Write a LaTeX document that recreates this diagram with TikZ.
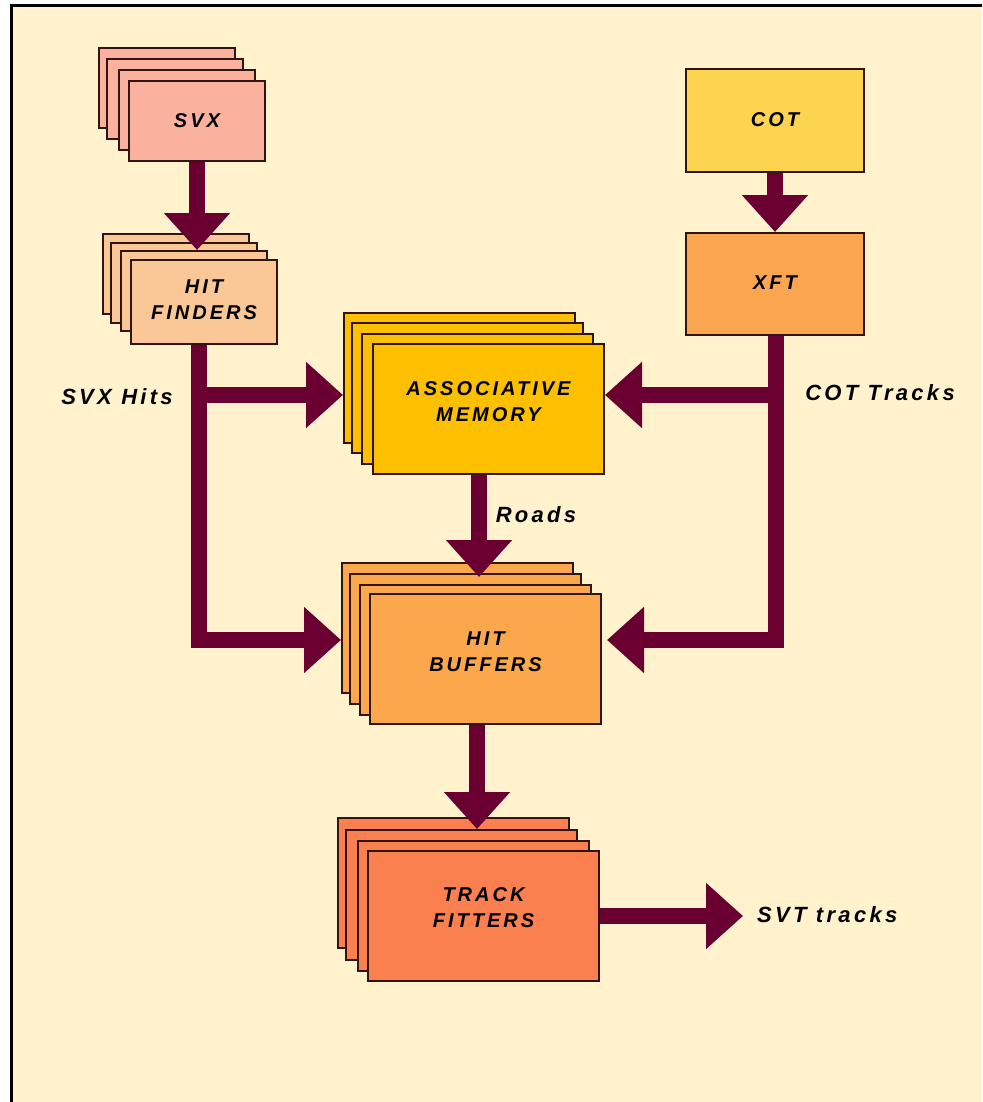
\documentclass[tikz,border=0pt]{standalone}
\usepackage{fontspec}
\setmainfont{Liberation Sans}
\newfontfamily\boxfont[LetterSpace=15]{Liberation Sans}
\newfontfamily\labfont[LetterSpace=15]{Liberation Sans}
\usetikzlibrary{arrows.meta}
\definecolor{bg}{RGB}{255,242,204}
\definecolor{svxc}{RGB}{250,178,158}
\definecolor{hfc}{RGB}{250,200,150}
\definecolor{cotc}{RGB}{253,212,80}
\definecolor{xftc}{RGB}{250,165,80}
\definecolor{amc}{RGB}{252,192,0}
\definecolor{hbc}{RGB}{251,168,76}
\definecolor{tfc}{RGB}{250,128,80}
\definecolor{arrowc}{RGB}{106,0,50}
\definecolor{edge}{RGB}{50,20,20}
\begin{document}
\begin{tikzpicture}[x=1pt,y=-1pt,
  box/.style={draw=edge, line width=2pt, inner sep=0pt, anchor=north west,
              minimum width=231pt, minimum height=130pt},
  txt/.style={font=\boxfont\bfseries\itshape\fontsize{20}{26}\selectfont,
              align=center, text=black, inner sep=0pt},
  lab/.style={font=\labfont\bfseries\itshape\fontsize{22}{26}\selectfont,
              text=black, inner sep=0pt},
  flow/.style={draw=arrowc, line width=16pt, line join=miter,
               -{Triangle[length=37pt,width=64pt]}}]
\useasboundingbox (0,0) rectangle (982,1102);
\fill[white] (0,0) rectangle (982,1102);
\fill[bg] (11,6) rectangle (982,1102);
\draw[line width=3pt] (11,1102) -- (11,6) -- (982,6);

% SVX stack
\foreach \i/\x/\y in {1/98/47,2/106/58,3/118/69}
  \node[box, fill=svxc, minimum width=136pt, minimum height=80pt] (svx\i) at (\x,\y) {};
\node[box, fill=svxc, minimum width=136pt, minimum height=80pt] (svx4) at (128,80) {};
\node[txt] (svxt) at (svx4.center) {SVX};

% HIT FINDERS stack
\foreach \i/\x/\y in {1/102/233,2/110/242,3/120/250}
  \node[box, fill=hfc, minimum width=146pt, minimum height=80pt] (hf\i) at (\x,\y) {};
\node[box, fill=hfc, minimum width=146pt, minimum height=84pt] (hf4) at (130,259) {};
\node[txt] (hft) at ([yshift=2pt]hf4.center) {HIT\\FINDERS};

% COT and XFT
\node[box, fill=cotc, minimum width=178pt, minimum height=103pt] (cot) at (685,68) {};
\node[txt] (cott) at ([yshift=1pt]cot.center) {COT};
\node[box, fill=xftc, minimum width=178pt, minimum height=102pt] (xft) at (685,232) {};
\node[txt] (xftt) at ([yshift=1pt]xft.center) {XFT};

% ASSOCIATIVE MEMORY stack
\foreach \i/\x/\y in {1/343/312,2/351/322,3/361/333,4/372/343}
  \node[box, fill=amc] (am\i) at (\x,\y) {};
\node[txt] (amt) at ([yshift=7pt]am4.center) {ASSOCIATIVE\\MEMORY};

% HIT BUFFERS stack
\foreach \i/\x/\y in {1/341/562,2/349/573,3/359/584,4/369/593}
  \node[box, fill=hbc] (hb\i) at (\x,\y) {};
\node[txt] (hbt) at ([yshift=7pt]hb4.center) {HIT\\BUFFERS};

% TRACK FITTERS stack
\foreach \i/\x/\y in {1/337/817,2/345/829,3/357/840,4/367/850}
  \node[box, fill=tfc] (tf\i) at (\x,\y) {};
\node[txt] (tft) at ([yshift=8pt]tf4.center) {TRACK\\FITTERS};

% labels
\node[lab] (svxhits) at (117,397) {SVX Hits};
\node[lab] (cottr) at (880,393) {COT Tracks};
\node[lab] (roads) at (536,515) {Roads};
\node[lab, anchor=west] (svt) at (757,915) {SVT tracks};

% junction coordinates
\coordinate (ja) at (199,395);
\coordinate (jb) at (199,640);
\coordinate (jc) at (776,395);
\coordinate (jd) at (776,640);
\coordinate (ax) at (479,0);
\coordinate (bx) at (477,0);

% connectors
\draw[flow] (svx4.south) -- (svx4.south |- hf3.north);
\draw[flow] (cot.south) -- (xft.north);
\draw[flow] (hf4.south -| ja) -- (jb) -- (hb1.west |- jb);
\draw[flow] (ja) -- (am1.west |- ja);
\draw[flow] (xft.south -| jd) -- (jd) -- ([xshift=5pt]hb4.east |- jd);
\draw[flow] (jc) -- (am4.east |- jc);
\draw[flow] (am4.south -| ax) -- ([yshift=-4pt]hb2.north -| ax);
\draw[flow] (hb4.south -| bx) -- (tf2.north -| bx);
\draw[flow] (tf4.east) -- ([xshift=-14pt]svt.west |- tf4.east);
\end{tikzpicture}
\end{document}
